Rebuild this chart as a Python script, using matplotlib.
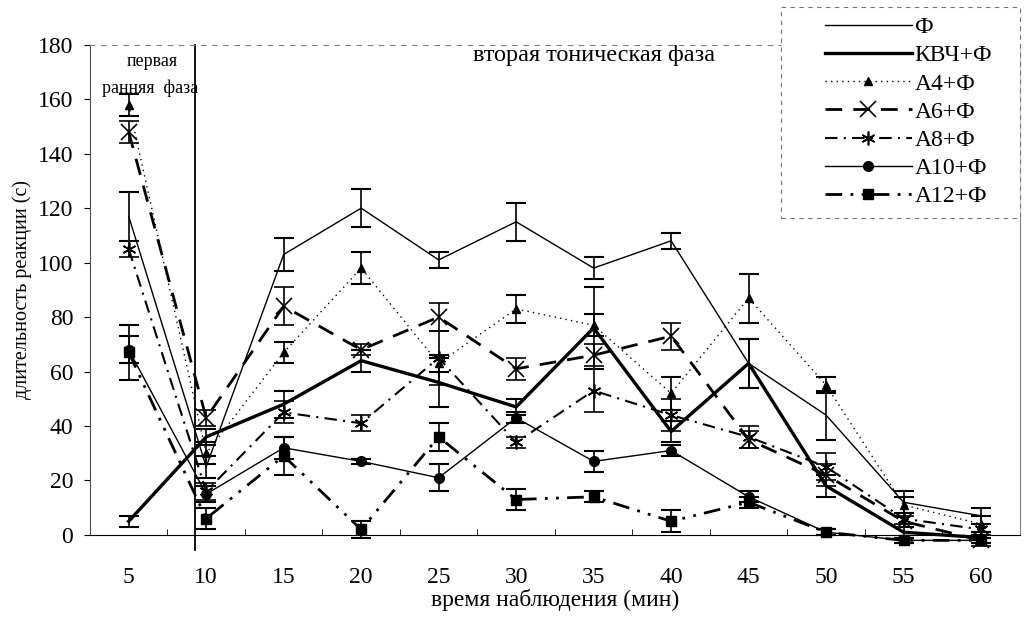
import numpy as np
import matplotlib

matplotlib.use("Agg")
import matplotlib.pyplot as plt
from matplotlib.patches import Rectangle

plt.rcParams['font.family'] = ['Liberation Serif', 'DejaVu Serif']

minutes = ['5', '10', '15', '20', '25', '30', '35', '40', '45', '50', '55', '60']

f_mean = [117, 25, 103, 120, 101, 115, 98, 108, 63, 44, 12, 7]
f_err = [9, 4, 6, 7, 3, 7, 4, 3, 9, 9, 4, 3]

kvch_mean = [5, 36, 48, 64, 56, 47, 76, 38, 63, 18, 1, -1]
kvch_err = [2, 3, 5, 4, 9, 3, 15, 4, 9, 4, 2, 2]

a4_mean = [158, 30, 67, 98, 63, 83, 77, 52, 87, 55, 11, 4]
a4_err = [4, 4, 4, 6, 3, 5, 4, 6, 9, 3, 3, 3]

a6_mean = [148, 43, 84, 68, 80, 61, 66, 73, 35, 22, 5, -2]
a6_err = [4, 3, 7, 2, 5, 4, 4, 5, 3, 4, 2, 2]

a8_mean = [105, 16, 45, 41, 65, 34, 53, 44, 36, 25, 6, 2]
a8_err = [3, 3, 4, 3, 10, 2, 8, 6, 4, 5, 2, 2]

a10_mean = [68, 15, 32, 27, 21, 43, 27, 31, 14, 1, -2, -2]
a10_err = [5, 3, 4, 1, 5, 2, 4, 2, 2, 1, 1, 1]

a12_mean = [67, 6, 29, 2, 36, 13, 14, 5, 12, 1, -2, -2]
a12_err = [10, 4, 7, 3, 5, 4, 2, 4, 2, 1, 1, 1]

series = [
    ('Ф', f_mean, f_err, dict(ls='-', lw=1.0, marker=None)),
    ('КВЧ+Ф', kvch_mean, kvch_err, dict(ls='-', lw=2.4, marker=None)),
    ('А4+Ф', a4_mean, a4_err, dict(ls=(0, (1, 3)), lw=1.0, marker='^', ms=6)),
    ('А6+Ф', a6_mean, a6_err, dict(ls=(0, (6, 4)), lw=2.0, marker='x', ms=12, mew=1.2)),
    ('А8+Ф', a8_mean, a8_err, dict(ls=(0, (6, 3, 1, 3)), lw=1.5, marker=(6, 2, 0), ms=10, mew=1.2)),
    ('А10+Ф', a10_mean, a10_err, dict(ls='-', lw=1.0, marker='o', ms=7)),
    ('А12+Ф', a12_mean, a12_err, dict(ls=(0, (6, 3, 1, 3, 1, 3)), lw=2.0, marker='s', ms=7.5)),
]

fig = plt.figure(figsize=(10.27, 6.22), dpi=100)
ax = fig.add_axes([0.0876, 0.140, 0.9054, 0.788])

x = np.arange(len(minutes))
handles = []
for name, m, e, st in series:
    cont = ax.errorbar(x, m, yerr=e, color='black', capsize=7, elinewidth=1.2,
                       capthick=1.5, label=name, clip_on=False, **st)
    handles.append(cont[0])

ax.set_xlim(-0.5, 11.5)
ax.set_ylim(0, 180)
ax.set_yticks(np.arange(0, 181, 20))
ax.set_xticks(x)
ax.set_xticklabels(minutes)
ax.set_xticks(np.arange(-0.5, 12, 1), minor=True)
ax.tick_params(axis='x', which='major', length=0, pad=23, labelsize=17)
ax.tick_params(axis='x', which='minor', direction='in', length=4)
ax.tick_params(axis='y', labelsize=17, length=4, width=0.8, pad=8)

ax.spines['top'].set_linestyle((0, (4, 6)))
ax.spines['top'].set_color('0.5')
ax.spines['top'].set_linewidth(0.8)
ax.spines['right'].set_color('0.5')
ax.spines['left'].set_color('0.3')

ax.axvline(0.855, ymin=-0.03, ymax=1.0, color='black', lw=1.3, clip_on=False)

ax.text(0.3, 174, 'первая', ha='center', va='center', fontsize=13)
ax.text(0.28, 164, 'ранняя  фаза', ha='center', va='center', fontsize=13)
ax.text(6.0, 176, 'вторая тоническая фаза', ha='center', va='center', fontsize=17.5)

ax.set_xlabel('время наблюдения (мин)', fontsize=17, labelpad=1)
ax.set_ylabel('длительность реакции (с)', fontsize=14.5, labelpad=4)

# legend box sits over the top-right corner of the plot
box = Rectangle((781 / 1027, 1 - 218 / 622), 239 / 1027, 211 / 622,
                transform=fig.transFigure, facecolor='white', edgecolor='0.45',
                lw=0.8, ls=(0, (4, 4)), zorder=2)
fig.add_artist(box)

leg = fig.legend(handles, [s[0] for s in series], loc='upper left',
                 bbox_to_anchor=(813 / 1027, 1 - 5 / 622), fontsize=17,
                 handlelength=3.7, handletextpad=0.1, labelspacing=0.28,
                 borderpad=0.5, borderaxespad=0, frameon=False)
leg.set_zorder(3)

fig.savefig('out.png', dpi=100)
